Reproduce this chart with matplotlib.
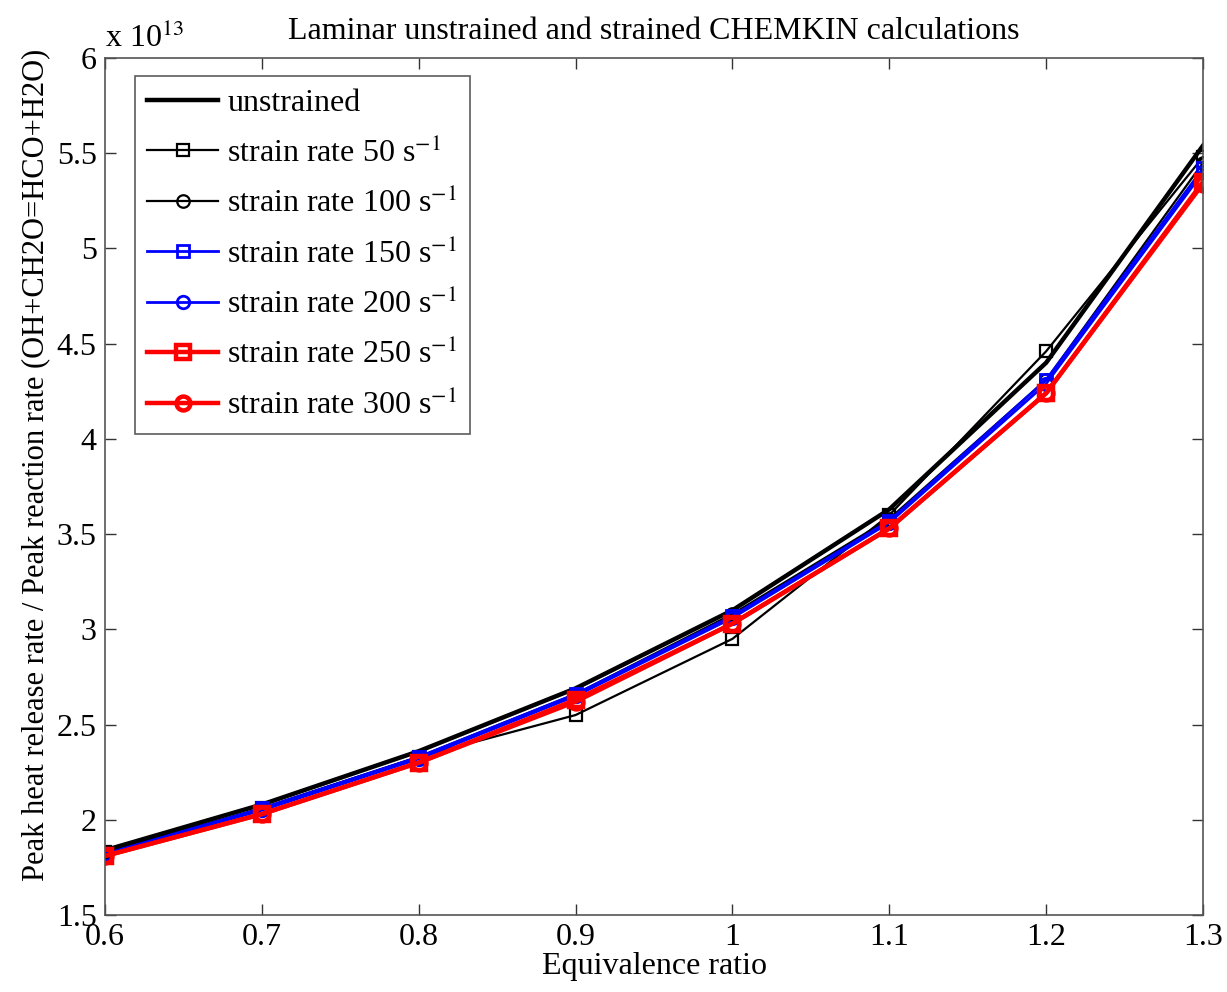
import matplotlib
matplotlib.use("Agg")
import matplotlib.pyplot as plt
from matplotlib.ticker import FuncFormatter

plt.rcParams['font.family'] = ['Liberation Serif', 'DejaVu Serif']
plt.rcParams['mathtext.fontset'] = 'stix'

# values in units of 1e13
phi = [0.6, 0.7, 0.8, 0.9, 1.0, 1.1, 1.2, 1.3]
unstrained = [1.84, 2.08, 2.36, 2.69, 3.10, 3.63, 4.40, 5.54]
sr50 = [1.83, 2.06, 2.33, 2.55, 2.95, 3.60, 4.46, 5.48]
sr100 = [1.82, 2.06, 2.33, 2.66, 3.08, 3.58, 4.31, 5.45]
sr150 = [1.82, 2.06, 2.33, 2.66, 3.07, 3.57, 4.31, 5.42]
sr200 = [1.82, 2.05, 2.32, 2.65, 3.06, 3.56, 4.29, 5.40]
sr250 = [1.81, 2.03, 2.30, 2.63, 3.03, 3.53, 4.24, 5.35]
sr300 = [1.81, 2.03, 2.30, 2.62, 3.03, 3.53, 4.24, 5.34]

fig = plt.figure(figsize=(12.27, 9.92), dpi=100)
ax = fig.add_axes([105/1227, 1 - 915/992, 1098/1227, 857/992])

ax.plot(phi, unstrained, color='black', linewidth=3.2, label='unstrained')
ax.plot(phi, sr50, color='black', linewidth=1.6, marker='s', markersize=9,
        markerfacecolor='none', markeredgewidth=1.6, label=r'strain rate 50 s$^{-1}$')
ax.plot(phi, sr100, color='black', linewidth=1.6, marker='o', markersize=9,
        markerfacecolor='none', markeredgewidth=1.6, label=r'strain rate 100 s$^{-1}$')
ax.plot(phi, sr150, color='blue', linewidth=2.0, marker='s', markersize=9,
        markerfacecolor='none', markeredgewidth=2.0, label=r'strain rate 150 s$^{-1}$')
ax.plot(phi, sr200, color='blue', linewidth=2.0, marker='o', markersize=9,
        markerfacecolor='none', markeredgewidth=2.0, label=r'strain rate 200 s$^{-1}$')
ax.plot(phi, sr250, color='red', linewidth=3.2, marker='s', markersize=10,
        markerfacecolor='none', markeredgewidth=3.2, label=r'strain rate 250 s$^{-1}$')
ax.plot(phi, sr300, color='red', linewidth=3.2, marker='o', markersize=10,
        markerfacecolor='none', markeredgewidth=3.2, label=r'strain rate 300 s$^{-1}$')

ax.set_xlim(0.6, 1.3)
ax.set_ylim(1.5, 6)
ax.set_xticks(phi)
ax.set_yticks([1.5, 2, 2.5, 3, 3.5, 4, 4.5, 5, 5.5, 6])
fmt = FuncFormatter(lambda v, p: ('%g' % round(v, 2)))
ax.xaxis.set_major_formatter(fmt)
ax.yaxis.set_major_formatter(fmt)
ax.tick_params(direction='in', top=True, right=True, labelsize=23, length=8,
               width=1, color='#333333', pad=6)
for s in ax.spines.values():
    s.set_color('#555555')
    s.set_linewidth(1.2)

ax.text(0.0, 1.005, r'x 10$^{13}$', transform=ax.transAxes, fontsize=23,
        ha='left', va='bottom')
ax.set_title('Laminar unstrained and strained CHEMKIN calculations', fontsize=23, pad=14)
ax.set_xlabel('Equivalence ratio', fontsize=23, labelpad=0)
ax.set_ylabel('Peak heat release rate / Peak reaction rate (OH+CH2O=HCO+H2O)',
              fontsize=22, labelpad=4)
ax.yaxis.set_label_coords(-0.05, 0.525)

leg = ax.legend(loc='upper left', fontsize=23, handlelength=2.2, borderpad=0.4,
                labelspacing=0.6, handletextpad=0.3, fancybox=False,
                borderaxespad=0, bbox_to_anchor=(0.027, 0.979))
leg.get_frame().set_edgecolor('#333333')
leg.get_frame().set_linewidth(1.2)

fig.savefig('out.png', dpi=100)
